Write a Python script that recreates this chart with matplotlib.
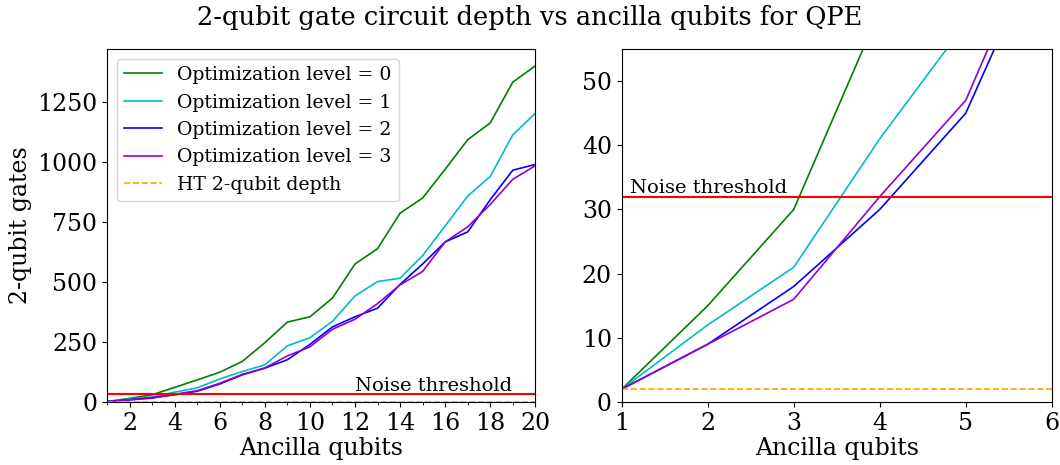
"""QPE: 2-qubit gate depth vs number of ancilla qubits, per optimization level."""

import matplotlib

matplotlib.use("Agg")
import matplotlib.pyplot as plt
from matplotlib.ticker import MultipleLocator

plt.rcParams["font.family"] = ["DejaVu Serif"]

ancilla = list(range(1, 21))
depth_opt0 = [2, 15, 30, 61, 92, 124, 169, 247, 333, 355, 433, 575, 639, 787, 850,
              970, 1093, 1163, 1333, 1401]
depth_opt1 = [2, 12, 21, 41, 59, 96, 127, 155, 234, 268, 336, 442, 502, 516, 610,
              734, 858, 940, 1113, 1203]
depth_opt2 = [2, 9, 18, 30, 45, 75, 113, 141, 176, 240, 313, 355, 391, 490, 575,
              667, 709, 843, 966, 990]
depth_opt3 = [2, 9, 16, 32, 47, 78, 115, 142, 192, 230, 303, 345, 410, 488, 544,
              667, 730, 823, 928, 985]
ht_depth = 2
noise_threshold = 32

series = [
    (depth_opt0, "green", "Optimization level = 0"),
    (depth_opt1, "c", "Optimization level = 1"),
    (depth_opt2, "b", "Optimization level = 2"),
    (depth_opt3, "darkviolet", "Optimization level = 3"),
]

fig = plt.figure(figsize=(10.6, 4.65), dpi=100)
ax_full = fig.add_axes([0.101, 0.1355, 0.404, 0.759])
ax_zoom = fig.add_axes([0.5865, 0.1355, 0.4057, 0.759])

for ax in (ax_full, ax_zoom):
    for vals, color, label in series:
        ax.plot(ancilla, vals, color=color, lw=1.2, label=label)
    ax.plot(ancilla, [ht_depth] * len(ancilla), color="orange", ls="--", lw=1.2,
            label="HT 2-qubit depth")
    ax.axhline(noise_threshold, color="red", lw=1.5)
    ax.set_xlabel("Ancilla qubits", fontsize=17, labelpad=2)
    ax.tick_params(labelsize=17)

# Left: full range
ax_full.set_xlim(1, 20)
ax_full.set_ylim(bottom=0)
ax_full.xaxis.set_major_locator(MultipleLocator(2))
ax_full.xaxis.set_minor_locator(MultipleLocator(1))
ax_full.set_ylabel("2-qubit gates", fontsize=17)
ax_full.text(12, 45, "Noise threshold", fontsize=14, va="baseline")
ax_full.legend(loc="upper left", fontsize=13.6, handlelength=2.0)

# Right: close-up on the small circuits
ax_zoom.set_xlim(1, 6)
ax_zoom.set_ylim(0, 55)
ax_zoom.text(1.1, 32.6, "Noise threshold", fontsize=14, va="baseline")

fig.text(0.5, 0.962, "2-qubit gate circuit depth vs ancilla qubits for QPE",
         fontsize=18.5, ha="center", va="center")

fig.savefig("out.png", dpi=100)
